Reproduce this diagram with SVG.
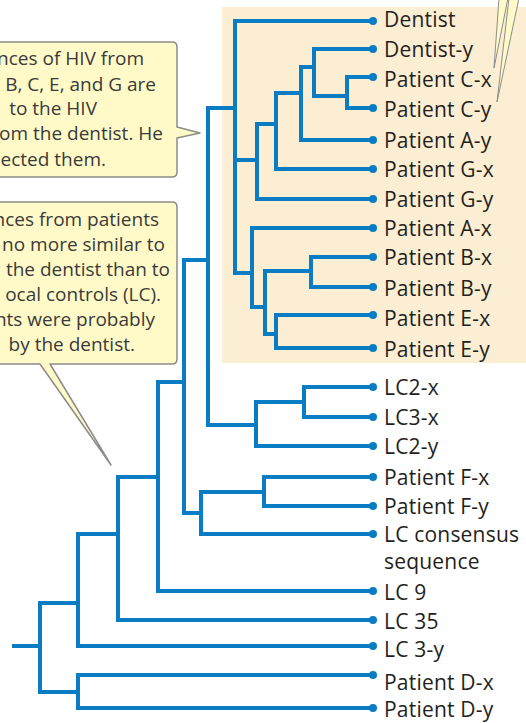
<svg xmlns="http://www.w3.org/2000/svg" width="526" height="723" viewBox="0 0 526 723">
<style>
.br{fill:none;stroke:#0A7CC4;stroke-width:4;stroke-linecap:square;stroke-linejoin:miter}
.dot{fill:#0A7CC4}
.lbl{font-family:"Open Sans","DejaVu Sans",sans-serif;font-size:21px;fill:#231F20;letter-spacing:0.2px}
.ct{font-family:"Open Sans","DejaVu Sans",sans-serif;font-size:19px;fill:#3a3a3a;text-anchor:end}
.box{fill:#FFFAC8;stroke:#8C8C8C;stroke-width:1.5;stroke-linejoin:round}
.wedge{fill:#FFFAC8;stroke:#8C8C8C;stroke-width:1}
</style>
<rect x="222" y="7" width="310" height="356" fill="#FCEED3"/>
<g id="callout-top">
<path class="box" d="M-10 42 H172 Q177 42 177 47 V127 L200 133 L177 138 V172 Q177 177 172 177 H-10 Z"/>
<text class="ct" x="144" y="65">nces of HIV from</text>
<text class="ct" x="156" y="90.5">B, C, E, and G are</text>
<text class="ct" x="97" y="115">to the HIV</text>
<text class="ct" x="163" y="140">om the dentist. He</text>
<text class="ct" x="106" y="165.5">ected them.</text>
</g>
<g id="callout-bottom">
<path class="box" d="M-10 202 H172 Q177 202 177 207 V359 Q177 364 172 364 H50 L111 465 L40 364 H-10 Z"/>
<text class="ct" x="159" y="226">nces from patients</text>
<text class="ct" x="165" y="251">no more similar to</text>
<text class="ct" x="170" y="276">the dentist than to</text>
<text class="ct" x="161" y="301">ocal controls (LC).</text>
<text class="ct" x="155" y="326">nts were probably</text>
<text class="ct" x="135" y="351">by the dentist.</text>
</g>
<g id="callout-pointers">
<path class="wedge" d="M499 -2 L494 68 L508 -2 Z"/>
<path class="wedge" d="M509 -2 L497 102 L519 -2 Z"/>
</g>
<g id="connectors">
<path class="br" d="M14 646 H40 M40 603 V692 M40 603 H78 M40 692 H78"/>
<path class="br" d="M78 534 V646 H371 M78 675 V708 M78 675 H371 M78 708 H371"/>
<path class="br" d="M78 534 H118 M118 477 V620 H371"/>
<path class="br" d="M118 477 H158 M158 382 V591 H371"/>
<path class="br" d="M158 382 H184 M184 260 V513 M184 260 H208 M184 513 H201"/>
<path class="br" d="M201 492 V534 H371 M201 492 H264 M264 477 V506 M264 477 H371 M264 506 H371"/>
<path class="br" d="M208 108 V425 M208 108 H235 M208 425 H256"/>
<path class="br" d="M256 402 V446 H371 M256 402 H304 M304 387 V417 M304 387 H371 M304 417 H371"/>
<path class="br" d="M235 21 V273 M235 21 H371 M235 160 H257 M235 273 H252"/>
<path class="br" d="M257 124 V199 H371 M257 124 H276 M276 93 V169 H371 M276 93 H301 M301 67 V140 H371 M301 67 H314 M314 49 V96 M314 49 H371 M314 96 H347 M347 77 V108 M347 77 H371 M347 108 H371"/>
<path class="br" d="M252 228 V307 M252 228 H371 M252 307 H265 M265 271 V334 M265 271 H311 M265 334 H276 M311 257 V287 M311 257 H371 M311 287 H371 M276 315 V348 M276 315 H371 M276 348 H371"/>
</g>
<g id="n-dentist"><circle class="dot" cx="373" cy="21" r="4"/><text class="lbl" x="384" y="27">Dentist</text></g>
<g id="n-dentist-y"><circle class="dot" cx="373" cy="49" r="4"/><text class="lbl" x="384" y="57">Dentist-y</text></g>
<g id="n-patient-c-x"><circle class="dot" cx="373" cy="77" r="4"/><text class="lbl" x="384" y="87">Patient C-x</text></g>
<g id="n-patient-c-y"><circle class="dot" cx="373" cy="108" r="4"/><text class="lbl" x="384" y="117">Patient C-y</text></g>
<g id="n-patient-a-y"><circle class="dot" cx="373" cy="140" r="4"/><text class="lbl" x="384" y="148">Patient A-y</text></g>
<g id="n-patient-g-x"><circle class="dot" cx="373" cy="169" r="4"/><text class="lbl" x="384" y="177">Patient G-x</text></g>
<g id="n-patient-g-y"><circle class="dot" cx="373" cy="199" r="4"/><text class="lbl" x="384" y="207">Patient G-y</text></g>
<g id="n-patient-a-x"><circle class="dot" cx="373" cy="228" r="4"/><text class="lbl" x="384" y="236">Patient A-x</text></g>
<g id="n-patient-b-x"><circle class="dot" cx="373" cy="257" r="4"/><text class="lbl" x="384" y="265">Patient B-x</text></g>
<g id="n-patient-b-y"><circle class="dot" cx="373" cy="287" r="4"/><text class="lbl" x="384" y="296">Patient B-y</text></g>
<g id="n-patient-e-x"><circle class="dot" cx="373" cy="315" r="4"/><text class="lbl" x="384" y="326">Patient E-x</text></g>
<g id="n-patient-e-y"><circle class="dot" cx="373" cy="348" r="4"/><text class="lbl" x="384" y="357">Patient E-y</text></g>
<g id="n-lc2-x"><circle class="dot" cx="373" cy="387" r="4"/><text class="lbl" x="384" y="395">LC2-x</text></g>
<g id="n-lc3-x"><circle class="dot" cx="373" cy="417" r="4"/><text class="lbl" x="384" y="425">LC3-x</text></g>
<g id="n-lc2-y"><circle class="dot" cx="373" cy="446" r="4"/><text class="lbl" x="384" y="454">LC2-y</text></g>
<g id="n-patient-f-x"><circle class="dot" cx="373" cy="477" r="4"/><text class="lbl" x="384" y="485">Patient F-x</text></g>
<g id="n-patient-f-y"><circle class="dot" cx="373" cy="506" r="4"/><text class="lbl" x="384" y="514">Patient F-y</text></g>
<g id="n-lc-consensus"><circle class="dot" cx="373" cy="534" r="4"/><text class="lbl" x="384" y="542">LC consensus</text><text class="lbl" x="384" y="569">sequence</text></g>
<g id="n-lc9"><circle class="dot" cx="373" cy="591" r="4"/><text class="lbl" x="384" y="600">LC 9</text></g>
<g id="n-lc35"><circle class="dot" cx="373" cy="620" r="4"/><text class="lbl" x="384" y="629">LC 35</text></g>
<g id="n-lc3-y"><circle class="dot" cx="373" cy="646" r="4"/><text class="lbl" x="384" y="657">LC 3-y</text></g>
<g id="n-patient-d-x"><circle class="dot" cx="373" cy="675" r="4"/><text class="lbl" x="384" y="690">Patient D-x</text></g>
<g id="n-patient-d-y"><circle class="dot" cx="373" cy="708" r="4"/><text class="lbl" x="384" y="717">Patient D-y</text></g>
</svg>
